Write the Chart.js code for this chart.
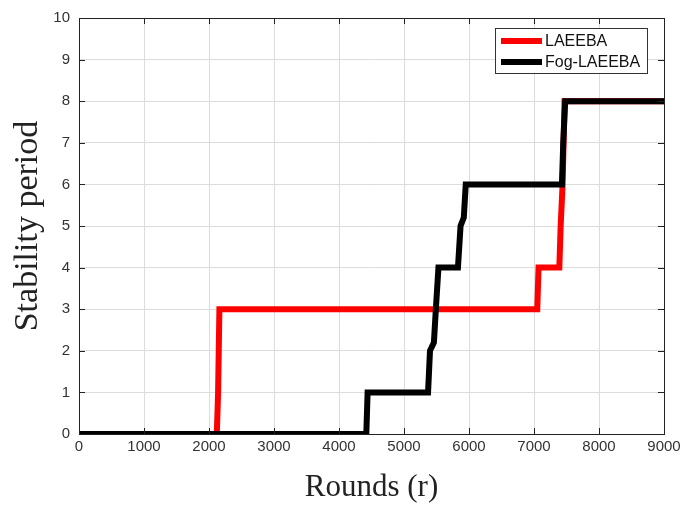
<!DOCTYPE html>
<html>
<head>
<meta charset="utf-8">
<script src="https://cdn.jsdelivr.net/npm/chart.js@4.4.0/dist/chart.umd.min.js"></script>
<style>
  body { margin: 0; background: #fff; }
  #wrap { width: 686px; height: 506px; }
</style>
</head>
<body>
<div id="wrap"><canvas id="chart" width="686" height="506"></canvas></div>
<script>
const seriesNames = ['LAEEBA', 'Fog-LAEEBA']
const seriesColors = ['#ff0000', '#000000']

// rounds (x) and stability period (y)
const laeebaRounds = [0, 2120, 2140, 2160, 7050, 7070, 7390, 7410, 7440, 7470, 9000]
const laeebaPeriod = [0, 0, 1, 3, 3, 4, 4, 5, 6, 8, 8]
const fogRounds = [0, 4420, 4440, 5370, 5400, 5460, 5490, 5530, 5830, 5870, 5920, 5950, 7430, 7450, 7480, 9000]
const fogPeriod = [0, 0, 1, 1, 2, 2.2, 3, 4, 4, 5, 5.2, 6, 6, 7, 8, 8]

const xTicks = [0, 1000, 2000, 3000, 4000, 5000, 6000, 7000, 8000, 9000]
const yTicks = [0, 1, 2, 3, 4, 5, 6, 7, 8, 9, 10]

function toPoints(xs, ys) {
    return xs.map((x, i) => ({ x: x, y: ys[i] }))
}

// box around the plot and the small inward ticks
const framePlugin = {
    id: 'frame',
    afterDatasetsDraw(chart) {
        const c = chart.ctx
        const a = chart.chartArea
        c.save()
        c.strokeStyle = '#222'
        c.lineWidth = 1
        c.beginPath()
        chart.scales.x.ticks.forEach((t, i) => {
            const px = Math.round(chart.scales.x.getPixelForTick(i)) + 0.5
            c.moveTo(px, a.bottom); c.lineTo(px, a.bottom - 6)
            c.moveTo(px, a.top); c.lineTo(px, a.top + 6)
        })
        chart.scales.y.ticks.forEach((t, i) => {
            const py = Math.round(chart.scales.y.getPixelForTick(i)) + 0.5
            c.moveTo(a.left, py); c.lineTo(a.left + 6, py)
            c.moveTo(a.right, py); c.lineTo(a.right - 6, py)
        })
        c.stroke()
        c.strokeRect(Math.round(a.left) + 0.5, Math.round(a.top) + 0.5, Math.round(a.right - a.left), Math.round(a.bottom - a.top))
        c.restore()
    }
}

// legend box in the top right corner, like matlab
const boxLegend = {
    id: 'boxLegend',
    afterDraw(chart) {
        const c = chart.ctx
        const x0 = 495, y0 = 28, w = 152, h = 45
        c.save()
        c.fillStyle = '#fff'
        c.fillRect(x0, y0, w, h)
        c.strokeStyle = '#333'
        c.lineWidth = 1
        c.strokeRect(x0 + 0.5, y0 + 0.5, w, h)
        c.font = '16px "Liberation Sans", Arial, sans-serif'
        c.textBaseline = 'middle'
        chart.data.datasets.forEach((ds, i) => {
            const y = y0 + 13 + i * 21
            c.strokeStyle = ds.borderColor
            c.lineWidth = 6
            c.beginPath()
            c.moveTo(x0 + 6, y)
            c.lineTo(x0 + 47, y)
            c.stroke()
            c.fillStyle = '#111'
            c.fillText(ds.label, x0 + 50, y + 1)
        })
        c.restore()
    }
}

new Chart(document.getElementById('chart'), {
    type: 'line',
    data: {
        datasets: [
            { label: seriesNames[0], data: toPoints(laeebaRounds, laeebaPeriod), borderColor: seriesColors[0], order: 1 },
            { label: seriesNames[1], data: toPoints(fogRounds, fogPeriod), borderColor: seriesColors[1], order: 0 }
        ]
    },
    options: {
        responsive: false,
        animation: false,
        layout: { padding: { left: 0, right: 22, top: 14, bottom: 0 } },
        elements: {
            line: { borderWidth: 6, tension: 0, borderJoinStyle: 'miter', borderCapStyle: 'butt' },
            point: { radius: 0 }
        },
        plugins: {
            legend: { display: false },
            tooltip: { enabled: false }
        },
        scales: {
            x: {
                type: 'linear',
                min: 0,
                max: 9000,
                afterBuildTicks: s => { s.ticks = xTicks.map(v => ({ value: v })) },
                afterFit: s => { s.height = 72 },
                grid: { color: '#dcdcdc', drawTicks: false },
                border: { display: false },
                ticks: {
                    color: '#333',
                    font: { family: '"Liberation Sans", Arial', size: 15 },
                    padding: 4,
                    maxRotation: 0,
                    callback: v => String(v)
                },
                title: {
                    display: true,
                    text: 'Rounds (r)',
                    color: '#222',
                    font: { family: '"Liberation Serif", "Times New Roman", serif', size: 31 },
                    padding: { top: 0, bottom: 0 }
                }
            },
            y: {
                min: 0,
                max: 10,
                afterBuildTicks: s => { s.ticks = yTicks.map(v => ({ value: v })) },
                afterFit: s => { s.width = 79 },
                grid: { color: '#dcdcdc', drawTicks: false },
                border: { display: false },
                ticks: { color: '#333', font: { family: '"Liberation Sans", Arial', size: 15 }, padding: 9 },
                title: {
                    display: true,
                    text: 'Stability period',
                    color: '#222',
                    font: { family: '"Liberation Serif", "Times New Roman", serif', size: 34 },
                    padding: { top: 8, bottom: 0 }
                }
            }
        }
    },
    plugins: [framePlugin, boxLegend]
})
</script>
</body>
</html>
